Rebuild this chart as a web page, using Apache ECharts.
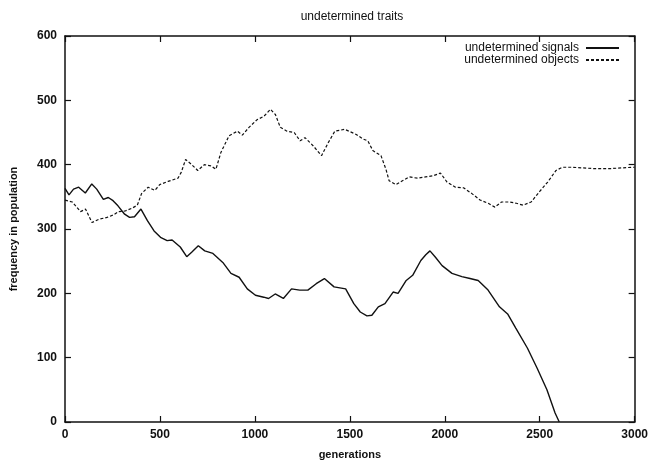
<!DOCTYPE html>
<html><head><meta charset="utf-8">
<script src="https://cdn.jsdelivr.net/npm/echarts@6/dist/echarts.min.js"></script>
<style>html,body{margin:0;padding:0;background:#fff}#c{width:651px;height:465px}</style>
</head><body><div id="c"></div>
<script>
const titleText = 'undetermined traits';
const xName = 'generations';
const yName = 'frequency in population';
const seriesNames = ['undetermined signals', 'undetermined objects'];

const signalGen = [0,21,45,72,107,141,167,202,228,253,279,314,340,366,400,434,469,503,538,564,607,641,667,702,736,779,831,874,917,960,1003,1047,1072,1107,1150,1193,1236,1279,1323,1366,1417,1478,1521,1555,1590,1616,1650,1685,1728,1754,1797,1831,1874,1900,1922,1951,1986,2038,2090,2133,2176,2228,2288,2331,2374,2435,2486,2538,2581,2603];
const signalVal = [363,353,362,365,356,370,362,346,349,344,336,323,318,319,331,313,297,287,282,283,272,257,264,274,266,262,248,231,225,207,197,194,192,199,192,207,205,205,215,223,210,207,184,171,165,166,179,184,202,200,220,228,251,260,266,256,243,231,226,223,220,205,179,168,146,115,84,50,14,0];

const objectGen = [0,38,82,108,142,177,221,256,282,317,351,381,403,438,473,499,543,595,612,635,664,699,734,768,795,821,864,908,934,969,1012,1047,1082,1108,1134,1169,1207,1238,1264,1308,1351,1386,1421,1473,1534,1569,1595,1621,1664,1690,1707,1742,1777,1812,1856,1899,1942,1977,2012,2056,2099,2143,2186,2229,2264,2299,2342,2377,2412,2455,2499,2542,2586,2620,2673,2777,2881,2985,3000];
const objectVal = [345,342,327,331,310,315,318,322,327,328,332,337,355,365,360,369,374,379,388,408,401,391,400,398,393,419,445,452,446,458,470,475,486,478,458,452,450,437,442,429,414,434,452,455,447,440,437,422,414,393,375,369,375,381,379,381,383,387,373,365,364,355,345,340,334,342,342,340,337,342,358,373,391,396,396,394,394,396,396];

const xTicks = [0, 500, 1000, 1500, 2000, 2500, 3000];
const yTicks = [0, 100, 200, 300, 400, 500, 600];

const zip = (a, b) => a.map((v, i) => [v, b[i]]);
const font = 'Liberation Sans, Arial, sans-serif';
const ink = '#111';

const chart = echarts.init(document.getElementById('c'), null, {renderer: 'canvas'});
const baseAxis = {
  axisLine: {show: true, onZero: false, lineStyle: {color: ink, width: 1.5}},
  axisTick: {show: true, inside: true, length: 6, lineStyle: {color: ink, width: 1.2}},
  splitLine: {show: false}
};
const plain = v => String(v);
chart.setOption({
  animation: false,
  backgroundColor: '#fff',
  title: {
    text: titleText, left: 347, top: 6, textAlign: 'center',
    textStyle: {fontFamily: font, fontSize: 12, fontWeight: 'normal', color: ink}
  },
  legend: {
    orient: 'vertical', right: 31, top: 42, align: 'right', padding: 0,
    itemWidth: 33, itemHeight: 11, itemGap: 0,
    itemStyle: {opacity: 0},
    textStyle: {fontFamily: font, fontSize: 12, color: ink, padding: [0, 2, 0, 0]},
    data: seriesNames
  },
  grid: {left: 61, right: 15, top: 36, bottom: 39, containLabel: false},
  xAxis: [
    Object.assign({}, baseAxis, {
      type: 'value', min: xTicks[0], max: xTicks[xTicks.length - 1], interval: 500,
      position: 'bottom', name: xName, nameLocation: 'middle', nameGap: 27,
      nameTextStyle: {fontFamily: font, fontSize: 11, fontWeight: 'bold', color: ink},
      axisLabel: {fontFamily: font, fontSize: 12, fontWeight: 'bold', color: ink, margin: 7, formatter: plain}
    }),
    Object.assign({}, baseAxis, {
      type: 'value', min: xTicks[0], max: xTicks[xTicks.length - 1], interval: 500,
      position: 'top', axisLabel: {show: false}
    })
  ],
  yAxis: [
    Object.assign({}, baseAxis, {
      type: 'value', min: yTicks[0], max: yTicks[yTicks.length - 1], interval: 100,
      position: 'left', name: yName, nameLocation: 'middle', nameGap: 46,
      nameTextStyle: {fontFamily: font, fontSize: 11, fontWeight: 'bold', color: ink},
      axisLabel: {fontFamily: font, fontSize: 12, fontWeight: 'bold', color: ink, margin: 8, formatter: plain}
    }),
    Object.assign({}, baseAxis, {
      type: 'value', min: yTicks[0], max: yTicks[yTicks.length - 1], interval: 100,
      position: 'right', axisLabel: {show: false}
    })
  ],
  series: [
    {
      name: seriesNames[0], type: 'line', xAxisIndex: 0, yAxisIndex: 0,
      data: zip(signalGen, signalVal), symbol: 'none', showSymbol: false,
      lineStyle: {color: ink, width: 1.4, type: 'solid'}, itemStyle: {color: ink}
    },
    {
      name: seriesNames[1], type: 'line', xAxisIndex: 0, yAxisIndex: 0,
      data: zip(objectGen, objectVal), symbol: 'none', showSymbol: false,
      lineStyle: {color: ink, width: 1.2, type: [3, 2]}, itemStyle: {color: ink}
    }
  ]
});
</script>
</body></html>
